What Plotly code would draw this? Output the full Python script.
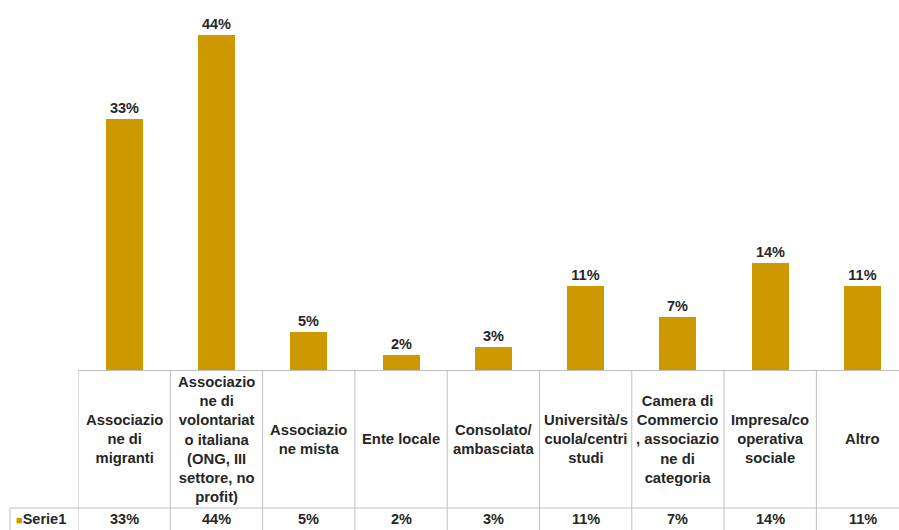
import plotly.graph_objects as go

# --------------------------------------------------
# Data
# --------------------------------------------------

categories = [
    "Associazio<br>ne di<br>migranti",
    "Associazio<br>ne di<br>volontariat<br>o italiana<br>(ONG, III<br>settore, no<br>profit)",
    "Associazio<br>ne mista",
    "Ente locale",
    "Consolato/<br>ambasciata",
    "Università/s<br>cuola/centri<br>studi",
    "Camera di<br>Commercio<br>, associazio<br>ne di<br>categoria",
    "Impresa/co<br>operativa<br>sociale",
    "Altro",
]
values = [0.33, 0.44, 0.05, 0.02, 0.03, 0.11, 0.07, 0.14, 0.11]
series_name = "Serie1"

BAR = "#CC9900"
GRID = "#BFBFBF"
TXT = "#262626"
FONT = "Liberation Sans, Arial, sans-serif"

fig = go.Figure()

# --------------------------------------------------
# Bars
# --------------------------------------------------

fig.add_trace(
    go.Bar(
        x=categories,
        y=values,
        name=series_name,
        marker=dict(color=BAR, line=dict(width=0)),
        width=0.4,
        texttemplate="<b>%{y:.0%}</b>",
        textposition="outside",
        textfont=dict(family=FONT, size=14.5, color=TXT),
        cliponaxis=False,
    )
)

# --------------------------------------------------
# Data table below the chart
# --------------------------------------------------

label_y = -0.1865
value_y = -0.4027
row_y = -0.373
bottom_y = -0.44

for cat, v in zip(categories, values):
    fig.add_annotation(
        x=cat, y=label_y, xref="x", yref="paper",
        text=f"<b>{cat}</b>", showarrow=False,
        yanchor="middle", align="center",
        font=dict(family=FONT, size=14.8, color=TXT),
    )
    fig.add_annotation(
        x=cat, y=value_y, xref="x", yref="paper",
        text=f"<b>{v:.0%}</b>", showarrow=False,
        yanchor="middle",
        font=dict(family=FONT, size=14.5, color=TXT),
    )

# vertical cell borders
for i in range(len(categories) + 1):
    fig.add_shape(
        type="line", xref="x", yref="paper",
        x0=i - 0.5, x1=i - 0.5, y0=0, y1=bottom_y,
        line=dict(color=GRID, width=1),
    )

# row separator and left border of series row
fig.add_shape(
    type="line", xref="paper", yref="paper",
    x0=-0.0828, x1=1, y0=row_y, y1=row_y,
    line=dict(color=GRID, width=1),
)
fig.add_shape(
    type="line", xref="paper", yref="paper",
    x0=-0.0828, x1=-0.0828, y0=row_y, y1=bottom_y,
    line=dict(color=GRID, width=1),
)

# legend key in the table
fig.add_annotation(
    x=-0.078, y=value_y, xref="paper", yref="paper",
    xanchor="left", yanchor="middle", showarrow=False,
    text=f"<span style='color:{BAR};font-size:11px'>■</span><b>Serie1</b>".replace("Serie1", series_name),
    font=dict(family=FONT, size=14.5, color=TXT),
)

# --------------------------------------------------
# Layout
# --------------------------------------------------

fig.update_xaxes(
    range=[-0.5, 8.395],
    showticklabels=False,
    ticks="",
    showgrid=False,
    showline=True,
    linecolor=GRID,
    linewidth=1,
    zeroline=False,
)
fig.update_yaxes(
    range=[0, 0.486],
    visible=False,
)

fig.update_layout(
    width=899,
    height=530,
    plot_bgcolor="white",
    paper_bgcolor="white",
    showlegend=False,
    bargap=0,
    margin=dict(l=78, r=0, t=0, b=160),
    font=dict(family=FONT, color=TXT),
)

fig.write_html(
    "out.html",
    config={"displayModeBar": False},
    post_script="document.body.style.margin='0';document.body.style.overflow='hidden';",
)
